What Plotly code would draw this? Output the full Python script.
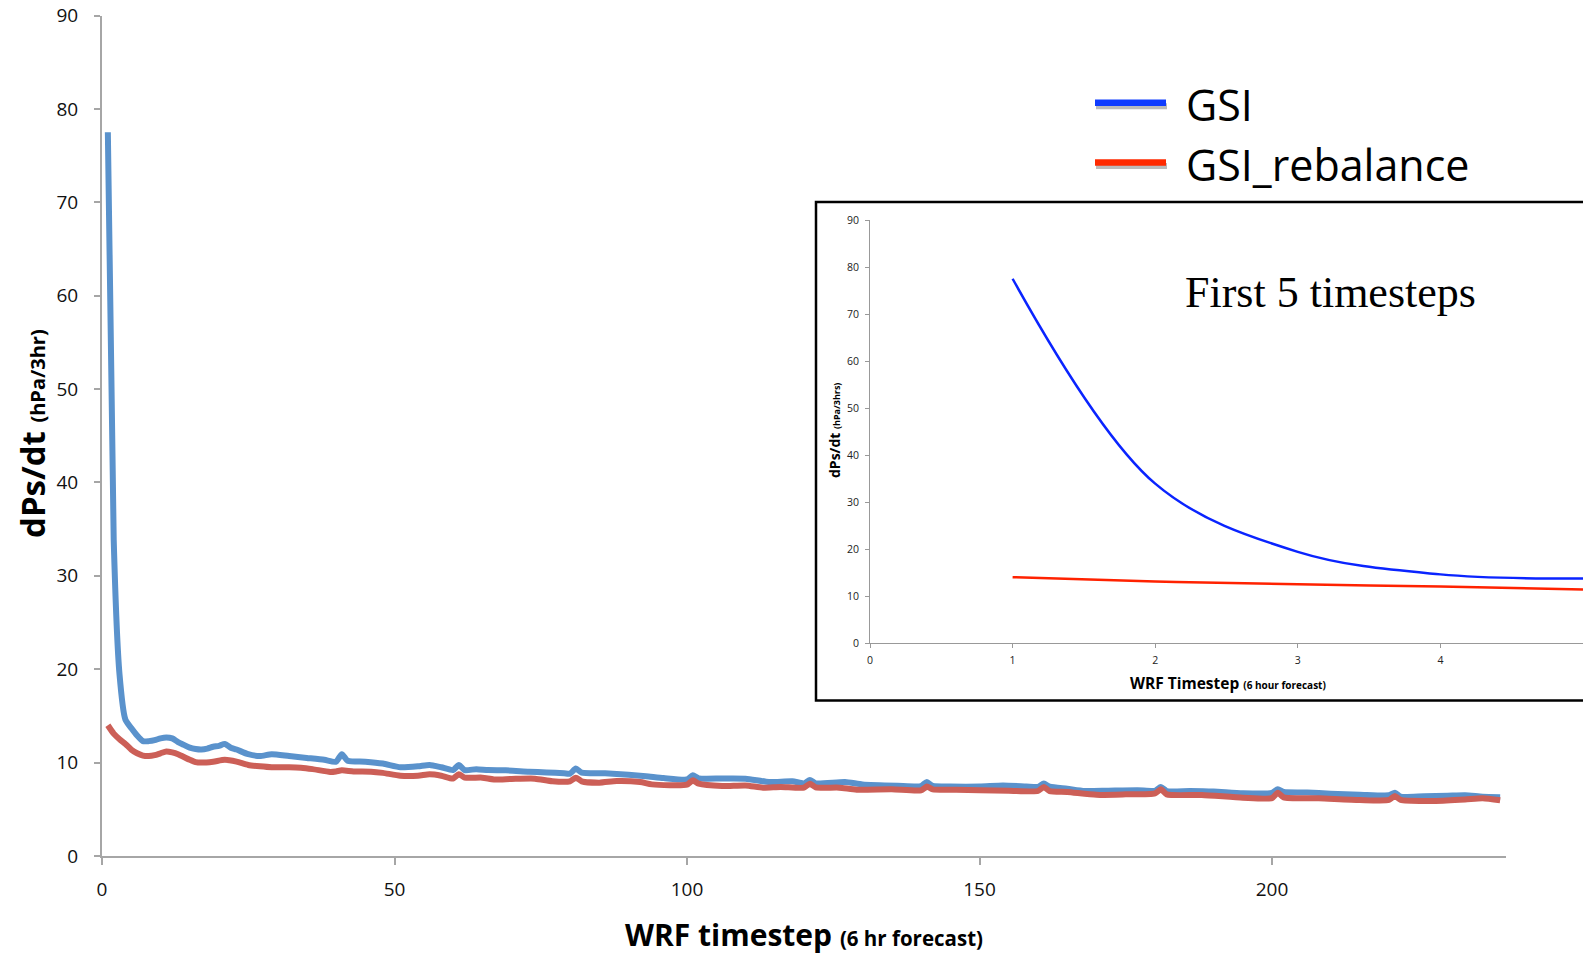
import plotly.graph_objects as go

# ---------------- data ----------------
# Main chart: GSI (blue) dPs/dt by WRF timestep
gsi_steps = [1, 2, 3, 4, 5, 6, 7, 8, 9, 10, 11, 12, 13, 14, 15, 16, 17, 18, 19, 20, 21, 22, 23,
             25, 27, 29, 32, 35, 38, 40, 41, 42, 45, 48,
             51, 54, 56, 58, 60, 61, 62, 64, 66, 69,
             73, 76, 79, 80, 81, 82, 86, 90, 93, 96,
             100, 101, 102, 106, 110, 114, 118, 120, 121, 122,
             127, 130, 136, 140, 141, 142, 145, 150, 154, 158,
             160, 161, 162, 165, 168, 172, 177, 180, 181, 182,
             186, 190, 195, 200, 201, 202, 206, 210, 215, 220,
             221, 222, 226, 230, 233, 236, 239]
gsi_vals = [77.5, 33.9, 19.4, 14.6, 13.7, 12.9, 12.3, 12.3, 12.4, 12.6,
            12.7, 12.6, 12.2, 11.9, 11.6, 11.45, 11.4, 11.5, 11.7, 11.8,
            12.0, 11.6, 11.4,
            10.9, 10.7, 10.9, 10.7, 10.5, 10.3, 10.1, 10.9, 10.2, 10.1, 9.9,
            9.5, 9.6, 9.75, 9.5, 9.2, 9.75, 9.2, 9.3, 9.2, 9.17,
            9.03, 8.95, 8.85, 8.82, 9.36, 8.92, 8.85, 8.7, 8.55, 8.35,
            8.2, 8.64, 8.32, 8.3, 8.28, 7.92, 8.0, 7.78, 8.14, 7.78,
            7.92, 7.67, 7.53, 7.49, 7.92, 7.5, 7.43, 7.43, 7.55, 7.45,
            7.4, 7.75, 7.42, 7.2, 6.96, 7.0, 7.05, 6.98, 7.38, 6.96,
            6.96, 6.9, 6.71, 6.75, 7.14, 6.85, 6.8, 6.67, 6.57, 6.5,
            6.78, 6.35, 6.4, 6.45, 6.5, 6.35, 6.3]

# Main chart: GSI_rebalance (red)
reb_steps = [1, 2, 3, 4, 5, 6, 7, 8, 9, 10, 11, 12, 13, 14, 15, 16, 17,
             19, 21, 23, 25, 27, 29, 32, 34, 36, 39,
             40, 41, 43, 46, 48, 51, 54, 56, 58, 60,
             61, 62, 65, 67, 70, 74, 77, 80, 81, 82,
             85, 88, 92, 94, 100, 101, 102, 106, 110, 113,
             116, 120, 121, 122, 126, 129, 135, 140, 141, 142,
             146, 150, 155, 160, 161, 162, 165, 170, 175, 180,
             181, 182, 188, 195, 200, 201, 202, 208, 215, 220,
             221, 222, 228, 233, 236, 239]
reb_vals = [14.0, 13.1, 12.5, 12.0, 11.4, 11.0, 10.75, 10.7, 10.8, 11.0,
            11.2, 11.1, 10.9, 10.6, 10.3, 10.05, 10.0,
            10.1, 10.3, 10.1, 9.75, 9.6, 9.5, 9.5, 9.45, 9.3, 9.0,
            9.05, 9.17, 9.05, 9.03, 8.9, 8.6, 8.6, 8.75, 8.6, 8.3,
            8.75, 8.4, 8.39, 8.2, 8.25, 8.28, 8.0, 8.0, 8.39, 8.0,
            7.85, 8.03, 7.92, 7.67, 7.64, 8.1, 7.74, 7.49, 7.56, 7.32,
            7.4, 7.32, 7.74, 7.35, 7.32, 7.1, 7.14, 7.03, 7.43, 7.14,
            7.1, 7.03, 7.0, 6.96, 7.39, 6.95, 6.85, 6.55, 6.6, 6.71,
            7.14, 6.6, 6.53, 6.25, 6.2, 6.78, 6.28, 6.18, 6.0, 6.0,
            6.43, 6.0, 5.9, 6.05, 6.18, 5.96]

# Inset: first 5 timesteps
inset_steps = [1, 2, 3, 4, 5]
inset_gsi = [77.5, 33.9, 19.4, 14.6, 13.7]
inset_reb = [14.0, 13.1, 12.5, 12.0, 11.4]

main_xticks = [0, 50, 100, 150, 200]
inset_xticks = [0, 1, 2, 3, 4]
y_ticks = [0, 10, 20, 30, 40, 50, 60, 70, 80, 90]

legend_names = ["GSI", "GSI_rebalance"]

# ---------------- layout helpers ----------------
W, H = 1583, 954


def fx(px):
    return px / W


def fy(py):
    return 1 - py / H


SANS = "Open Sans, Lato, sans-serif"
AXIS_GRAY = "#a6a6a6"

fig = go.Figure()

fig.add_trace(go.Scatter(x=gsi_steps, y=gsi_vals, mode="lines", name=legend_names[0],
                         line=dict(color="#5A92CC", width=6, shape="spline", smoothing=0.6),
                         xaxis="x", yaxis="y", showlegend=False))
fig.add_trace(go.Scatter(x=reb_steps, y=reb_vals, mode="lines", name=legend_names[1],
                         line=dict(color="#CC5F57", width=6, shape="spline", smoothing=0.6),
                         xaxis="x", yaxis="y", showlegend=False))

fig.add_trace(go.Scatter(x=inset_steps, y=inset_gsi, mode="lines", name=legend_names[0],
                         line=dict(color="#0A24FF", width=2.5, shape="spline", smoothing=1.0),
                         xaxis="x2", yaxis="y2", showlegend=False, cliponaxis=False))
fig.add_trace(go.Scatter(x=inset_steps, y=inset_reb, mode="lines", name=legend_names[1],
                         line=dict(color="#FF2200", width=2.5, shape="spline", smoothing=1.0),
                         xaxis="x2", yaxis="y2", showlegend=False, cliponaxis=False))

fig.update_layout(
    width=W, height=H,
    margin=dict(l=0, r=0, t=0, b=0, pad=0, autoexpand=False),
    paper_bgcolor="white", plot_bgcolor="rgba(0,0,0,0)",
    showlegend=False,
    xaxis=dict(domain=[fx(102), fx(1506)], range=[0, 240], anchor="y", automargin=False,
               tickvals=main_xticks, ticks="outside", ticklen=7, tickwidth=2, tickcolor=AXIS_GRAY,
               showline=True, linecolor=AXIS_GRAY, linewidth=2, showgrid=False, zeroline=False,
               tickfont=dict(family=SANS, size=19, color="#111"), ticklabelstandoff=8),
    yaxis=dict(domain=[fy(856), fy(15.5)], range=[0, 90], anchor="x", automargin=False,
               tickvals=y_ticks, ticks="outside", ticklen=6, tickwidth=2, tickcolor=AXIS_GRAY,
               showline=True, linecolor=AXIS_GRAY, linewidth=2, showgrid=False, zeroline=False,
               tickfont=dict(family=SANS, size=19, color="#111"), ticklabelstandoff=12),
    xaxis2=dict(domain=[fx(870), 1.0], range=[0, 5], anchor="y2", automargin=False,
                tickvals=inset_xticks, ticks="outside", ticklen=4, tickwidth=1, tickcolor="#999",
                showline=True, linecolor="#999", linewidth=1, showgrid=False, zeroline=False,
                tickfont=dict(family=SANS, size=10.5, color="#222"), ticklabelstandoff=3),
    yaxis2=dict(domain=[fy(643), fy(220)], range=[0, 90], anchor="x2", automargin=False,
                tickvals=y_ticks, ticks="outside", ticklen=4, tickwidth=1, tickcolor="#999",
                showline=True, linecolor="#999", linewidth=1, showgrid=False, zeroline=False,
                tickfont=dict(family=SANS, size=10.5, color="#222"), ticklabelstandoff=4),
)

shapes = []
# inset frame
shapes.append(dict(type="rect", xref="paper", yref="paper",
                   x0=fx(816), x1=fx(1600), y0=fy(700.5), y1=fy(202),
                   line=dict(color="black", width=2.5), fillcolor="rgba(0,0,0,0)", layer="below"))
# legend keys (with soft shadow)
leg_y = [102.7, 162.5]
leg_cols = ["#0F3CFF", "#FF2A00"]
for yy, col in zip(leg_y, leg_cols):
    shapes.append(dict(type="line", xref="paper", yref="paper",
                       x0=fx(1096), x1=fx(1167), y0=fy(yy + 3.5), y1=fy(yy + 3.5),
                       line=dict(color="rgba(60,60,60,0.35)", width=6)))
    shapes.append(dict(type="line", xref="paper", yref="paper",
                       x0=fx(1095), x1=fx(1166), y0=fy(yy), y1=fy(yy),
                       line=dict(color=col, width=6.5)))
fig.update_layout(shapes=shapes)

ann = []
leg_text_y = [104.5, 165.0]
for name, yy in zip(legend_names, leg_text_y):
    ann.append(dict(text=name, xref="paper", yref="paper", x=fx(1184), y=fy(yy),
                    xanchor="left", yanchor="middle", showarrow=False,
                    font=dict(family=SANS, size=43, color="black")))

# main axis titles
ann.append(dict(text="<b>dPs/dt <span style='font-size:20px'>(hPa/3hr)</span></b>",
                xref="paper", yref="paper", x=fx(32), y=fy(434), textangle=-90,
                xanchor="center", yanchor="middle", showarrow=False,
                font=dict(family=SANS, size=33, color="black")))
ann.append(dict(text="<b>WRF timestep <span style='font-size:20.5px'>(6 hr forecast)</span></b>",
                xref="paper", yref="paper", x=fx(804), y=fy(934),
                xanchor="center", yanchor="middle", showarrow=False,
                font=dict(family=SANS, size=30, color="black")))

# inset axis titles
ann.append(dict(text="<b>dPs/dt <span style='font-size:9px'>(hPa/3hrs)</span></b>",
                xref="paper", yref="paper", x=fx(834), y=fy(430), textangle=-90,
                xanchor="center", yanchor="middle", showarrow=False,
                font=dict(family=SANS, size=14, color="black")))
ann.append(dict(text="<b>WRF Timestep <span style='font-size:10px'>(6 hour forecast)</span></b>",
                xref="paper", yref="paper", x=fx(1228), y=fy(683),
                xanchor="center", yanchor="middle", showarrow=False,
                font=dict(family=SANS, size=15.5, color="black")))

# inset caption
ann.append(dict(text="First 5 timesteps", xref="paper", yref="paper",
                x=fx(1183), y=fy(293), xanchor="left", yanchor="middle", showarrow=False,
                font=dict(family="Liberation Serif, Times New Roman, serif", size=44, color="black")))

fig.update_layout(annotations=ann)

fig.write_html("out.html")
